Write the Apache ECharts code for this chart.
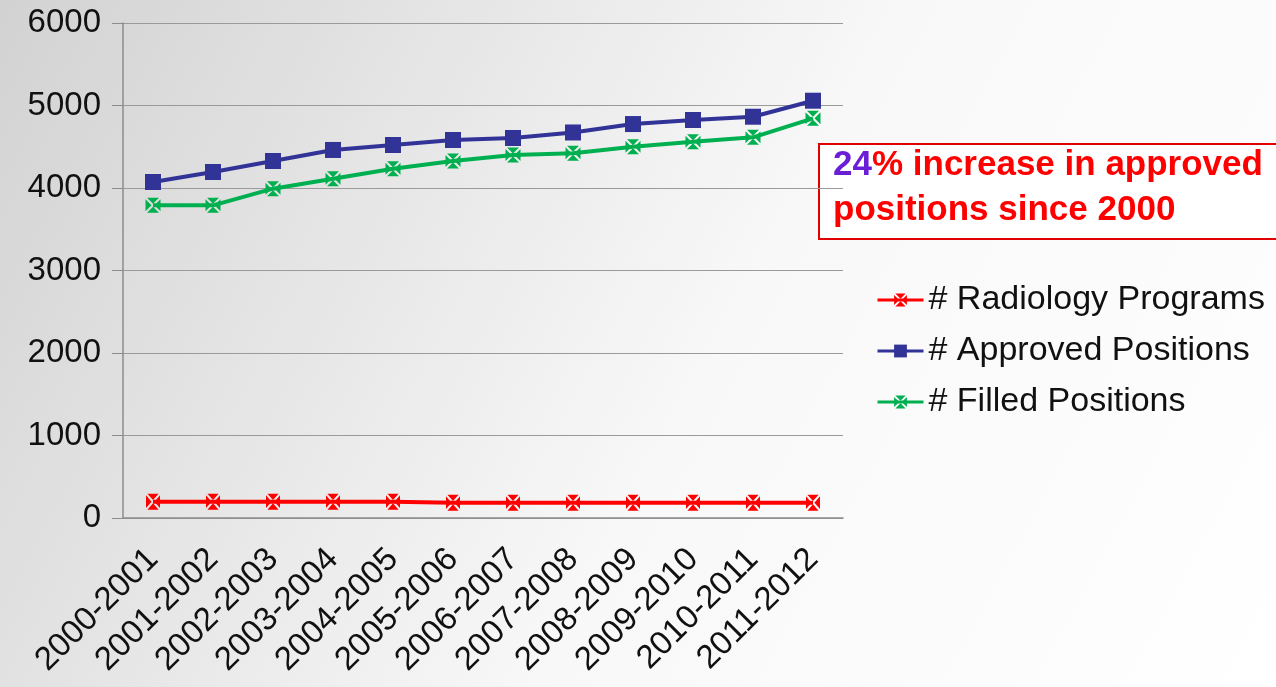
<!DOCTYPE html>
<html>
<head>
<meta charset="utf-8">
<script src="https://cdn.jsdelivr.net/npm/echarts@6/dist/echarts.min.js"></script>
<style>
  html, body { margin: 0; padding: 0; }
  #chart { width: 1276px; height: 687px; }
</style>
</head>
<body>
<div id="chart"></div>
<script>
var years = ['2000-2001','2001-2002','2002-2003','2003-2004','2004-2005','2005-2006',
             '2006-2007','2007-2008','2008-2009','2009-2010','2010-2011','2011-2012'];
var programs = [198, 198, 198, 198, 198, 186, 186, 186, 186, 186, 186, 186];
var approved = [4073, 4194, 4327, 4461, 4521, 4582, 4606, 4673, 4775, 4824, 4864, 5058];
var filled   = [3790, 3790, 3992, 4113, 4234, 4327, 4400, 4420, 4500, 4561, 4614, 4845];
var yTicks = [0, 1000, 2000, 3000, 4000, 5000, 6000];

// square with an X cut out of it
var xBox = 'path://M1,0L9,0L5,4Z M10,1L10,9L6,5Z M1,10L9,10L5,6Z M0,1L0,9L4,5Z';
var font = 'Liberation Sans';

var myChart = echarts.init(document.getElementById('chart'));
var option = {
  backgroundColor: {
    type: 'linear', x: 0, y: 0, x2: 1, y2: 1,
    colorStops: [{offset: 0, color: '#d2d2d2'}, {offset: 0.55, color: '#f8f8f8'}, {offset: 1, color: '#ffffff'}]
  },
  textStyle: { fontFamily: font },
  grid: { left: 123, right: 433, top: 23, bottom: 169 },
  legend: {
    orient: 'vertical',
    left: 871, top: 278,
    itemWidth: 46, itemHeight: 16, itemGap: 17,
    lineStyle: { width: 3 },
    textStyle: { fontSize: 34, color: '#111', fontFamily: font },
    data: ['# Radiology Programs', '# Approved Positions', '# Filled Positions']
  },
  xAxis: {
    type: 'category',
    data: years,
    boundaryGap: true,
    axisLine: { lineStyle: { color: '#8c8c8c', width: 1.5 } },
    axisTick: { length: 10, lineStyle: { color: '#8c8c8c' } },
    axisLabel: { rotate: 45, fontSize: 33, color: '#111', margin: 36, interval: 0 }
  },
  yAxis: {
    type: 'value',
    min: yTicks[0], max: yTicks[yTicks.length - 1], interval: 1000,
    axisLine: { show: true, lineStyle: { color: '#8c8c8c', width: 1.5 } },
    axisTick: { show: true, length: 11, lineStyle: { color: '#8c8c8c' } },
    axisLabel: { fontSize: 33, color: '#111', margin: 22, formatter: function (v) { return String(v); } },
    splitLine: { lineStyle: { color: '#9a9a9a', width: 1.2 } }
  },
  series: [
    {
      name: '# Radiology Programs', type: 'line', data: programs,
      symbol: xBox, symbolSize: [14, 16],
      itemStyle: { color: '#ff0000' },
      lineStyle: { color: '#ff0000', width: 4 }
    },
    {
      name: '# Approved Positions', type: 'line', data: approved,
      symbol: 'rect', symbolSize: 16,
      itemStyle: { color: '#313397' },
      lineStyle: { color: '#313397', width: 4 }
    },
    {
      name: '# Filled Positions', type: 'line', data: filled,
      symbol: xBox, symbolSize: 15,
      itemStyle: { color: '#00b050' },
      lineStyle: { color: '#00b050', width: 4 }
    }
  ],
  graphic: [
    {
      type: 'rect',
      left: 818, top: 143,
      shape: { width: 470, height: 95 },
      style: { fill: '#ffffff', stroke: '#e00000', lineWidth: 2 }
    },
    {
      type: 'text',
      left: 833, top: 148,
      style: {
        text: '{p|24}{r|% increase in approved}\n{r|positions since 2000}',
        rich: {
          p: { fill: '#6a1fd6', fontSize: 35, fontWeight: 'bold', fontFamily: font, lineHeight: 45 },
          r: { fill: '#ff0000', fontSize: 35, fontWeight: 'bold', fontFamily: font, lineHeight: 45 }
        }
      }
    }
  ]
};
myChart.setOption(option);
</script>
</body>
</html>
